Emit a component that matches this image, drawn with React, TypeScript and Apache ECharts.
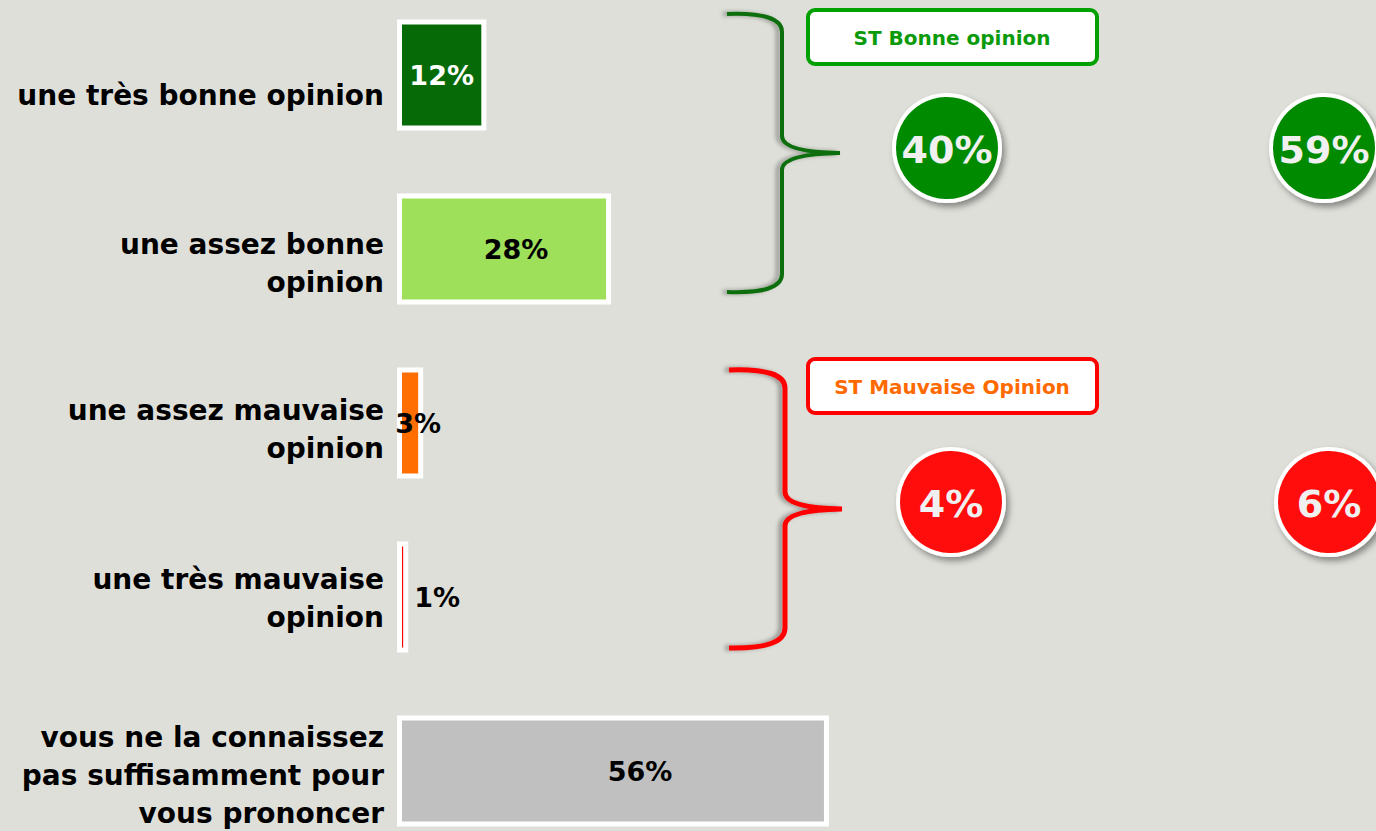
import React, { useEffect, useRef } from "react";
import * as echarts from "echarts";

// ---- data ----
const categories = [
  "une très bonne opinion",
  "une assez bonne\nopinion",
  "une assez mauvaise\nopinion",
  "une très mauvaise\nopinion",
  "vous ne la connaissez\npas suffisamment pour\nvous prononcer",
];
const values = [11.6, 27.8, 3.4, 1.45, 56.1];
const groupTitles = ["ST Bonne opinion", "ST Mauvaise Opinion"];
const groupCurrent = [40, 4];
const groupPrevious = [59, 6];

// ---- styles ----
const barColors = ["#066b06", "#9ee05a", "#ff6e00", "#ff0000", "#c0c0c0"];
const barBorderWidths = [5, 5, 5, 5, 5];
const barLabelColors = ["#ffffff", "#000000", "#000000", "#000000", "#000000"];
const barLabelPlacement: any[] = [
  { position: "inside", offset: [0, 0] },
  { position: "inside", offset: [12, 0] },
  { position: "right", distance: -28 },
  { position: "right", distance: 6 },
  { position: "inside", offset: [27, 0] },
];
const catLabelShift = [20, 14, 6, 1, 4];
const groupStroke = ["#00a000", "#ff0000"];
const groupTitleColor = ["#0a9a0a", "#ff6a00"];
const groupFill = ["#008a00", "#ff0a0a"];
const braceColor = ["#0a6e0a", "#ff0000"];

// chart canvas starts 12px above the window, so graphic y values include +12
const OFF = 12;
const braceGreen =
  "M727 26 Q782 24 782 44 L782 148 Q782 164 840 165 Q782 166 782 182 L782 286 Q782 306 727 304";
const braceRed =
  "M729 382 Q785 380 785 400 L785 504 Q785 520 842 521 Q785 522 785 538 L785 640 Q785 661 729 660";

echarts.graphic.registerShape("braceGreen", echarts.graphic.extendPath(braceGreen, {}) as any);
echarts.graphic.registerShape("braceRed", echarts.graphic.extendPath(braceRed, {}) as any);

const FONT = "DejaVu Sans";

export default function App() {
  const ref = useRef<HTMLDivElement>(null);
  useEffect(() => {
    if (!ref.current) return;
    const chart = echarts.init(ref.current, undefined, { renderer: "svg" });

    const boxY = [10 + OFF, 359 + OFF];
    const circleY = [148 + OFF, 502 + OFF];
    const circleX1 = [947, 951];
    const circleX2 = [1324, 1329];
    const graphics: any[] = [];
    ["braceGreen", "braceRed"].forEach((t, i) => {
      graphics.push({
        type: t,
        x: 0,
        y: 0,
        style: {
          fill: "none",
          stroke: braceColor[i],
          lineWidth: i === 0 ? 4 : 5,
          shadowColor: "rgba(0,0,0,0.35)",
          shadowBlur: 4,
          shadowOffsetX: -4,
          shadowOffsetY: 0,
        },
      });
    });
    groupTitles.forEach((title, i) => {
      graphics.push({
        type: "rect",
        shape: { x: 808, y: boxY[i], width: 289, height: 54, r: 7 },
        style: { fill: "#ffffff", stroke: groupStroke[i], lineWidth: 4 },
      });
      graphics.push({
        type: "text",
        x: 952,
        y: boxY[i] + 28,
        style: {
          text: title,
          fill: groupTitleColor[i],
          fontSize: 20,
          fontWeight: "bold",
          fontFamily: FONT,
          align: "center",
          verticalAlign: "middle",
        },
      });
      [
        [circleX1[i], groupCurrent[i]],
        [circleX2[i], groupPrevious[i]],
      ].forEach(([cx, v]) => {
        graphics.push({
          type: "circle",
          shape: { cx, cy: circleY[i], r: 53 },
          style: {
            fill: groupFill[i],
            stroke: "#ffffff",
            lineWidth: 4,
            shadowColor: "rgba(0,0,0,0.4)",
            shadowBlur: 6,
            shadowOffsetX: 3,
            shadowOffsetY: 4,
          },
        });
        graphics.push({
          type: "text",
          x: cx,
          y: circleY[i] + 2,
          style: {
            text: v + "%",
            fill: "#f0f0f0",
            fontSize: 38,
            fontWeight: "bold",
            fontFamily: FONT,
            align: "center",
            verticalAlign: "middle",
          },
        });
      });
    });

    const rich: any = {};
    catLabelShift.forEach((s, i) => {
      rich["p" + i] = { height: s * 2, lineHeight: s * 2, fontSize: 1 };
    });

    chart.setOption({
      animation: false,
      backgroundColor: "#dfdfda",
      grid: { left: 397, right: 209, top: 0, bottom: 0, containLabel: false },
      xAxis: { type: "value", min: 0, max: 100, show: false },
      yAxis: {
        type: "category",
        inverse: true,
        data: categories,
        axisLine: { show: false },
        axisTick: { show: false },
        splitLine: { show: false },
        axisLabel: {
          fontSize: 28,
          fontWeight: "bold",
          fontFamily: FONT,
          color: "#000000",
          lineHeight: 38,
          margin: 13,
          align: "right",
          formatter: (v: string, i: number) => `{p${i}| }\n` + v,
          rich,
        },
      },
      series: [
        {
          type: "bar",
          barWidth: 111,
          data: values.map((v, i) => ({
            value: v,
            itemStyle: { color: barColors[i], borderWidth: barBorderWidths[i] },
            label: {
              show: true,
              ...barLabelPlacement[i],
              color: barLabelColors[i],
              formatter: () => Math.round(v) + "%",
            },
          })),
          itemStyle: { borderColor: "#ffffff", borderWidth: 5 },
          label: { fontSize: 27, fontWeight: "bold", fontFamily: FONT },
        },
      ],
      graphic: graphics,
    });
    return () => chart.dispose();
  }, []);
  return (
    <div
      style={{
        position: "absolute",
        left: 0,
        top: 0,
        width: 1376,
        height: 831,
        overflow: "hidden",
        background: "#dfdfda",
      }}
    >
      <div
        ref={ref}
        style={{ position: "absolute", left: 0, top: -OFF, width: 1376, height: 870 }}
      />
    </div>
  );
}
